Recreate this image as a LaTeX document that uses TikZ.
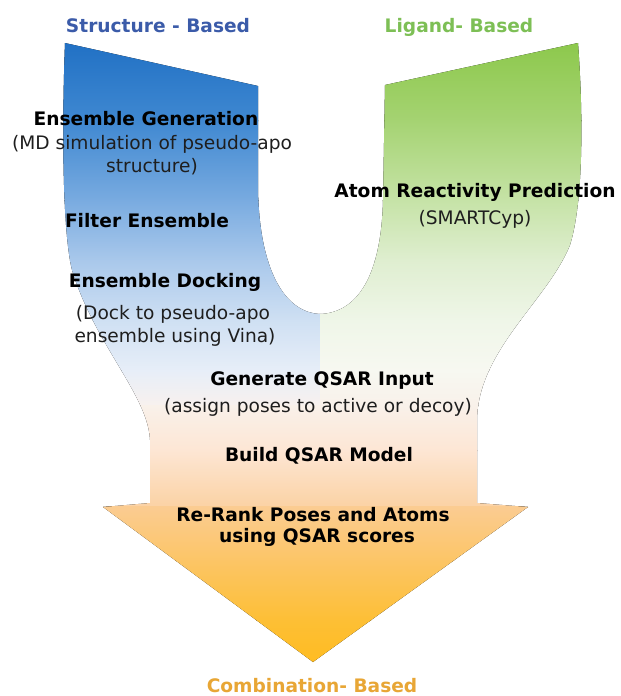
\documentclass[tikz,border=0pt]{standalone}
\usepackage{fontspec}
\setmainfont{DejaVu Sans}

\definecolor{structblue}{HTML}{3B5BA9}
\definecolor{ligandgreen}{HTML}{7DBF55}
\definecolor{comborange}{HTML}{E8A635}
\definecolor{subgray}{HTML}{1E1E1E}
% blue ramp
\definecolor{bA}{HTML}{2070C4}
\definecolor{bB}{HTML}{3F88D1}
\definecolor{bC}{HTML}{79ABE0}
\definecolor{bD}{HTML}{A9C8EB}
\definecolor{bE}{HTML}{CFE0F3}
\definecolor{bF}{HTML}{E7EEF8}
\definecolor{bG}{HTML}{F8F1EE}
% green ramp
\definecolor{gA}{HTML}{8CC84B}
\definecolor{gB}{HTML}{A5D372}
\definecolor{gC}{HTML}{C6E3A7}
\definecolor{gD}{HTML}{DFEED0}
\definecolor{gE}{HTML}{EFF6E8}
\definecolor{gF}{HTML}{F7F8F1}
\definecolor{gG}{HTML}{F9F1EA}
% peach / orange ramp
\definecolor{pA}{HTML}{F9F1EA}
\definecolor{pB}{HTML}{FDE6D4}
\definecolor{pC}{HTML}{FBD2A4}
\definecolor{oA}{HTML}{FBCC92}
\definecolor{oB}{HTML}{FCC566}
\definecolor{oC}{HTML}{FDBF35}
\definecolor{oD}{HTML}{FFBC20}

% outline of the U-shaped funnel ending in a downward arrow head
\newcommand\flowoutline{%
  (65,43) -- (258,86) -- (258,190)
  .. controls (260,280) and (290,313) .. (320,314)
  .. controls (352,313) and (381,285) .. (383,200)
  -- (385,85) -- (578,43)
  .. controls (583,110) and (584,200) .. (570,245)
  .. controls (548,300) and (478,350) .. (477,420)
  -- (477,503) -- (528,507) -- (313,662) -- (103,507) -- (150,503)
  -- (150,440)
  .. controls (148,395) and (95,345) .. (72,270)
  .. controls (62,230) and (62,120) .. (65,43) -- cycle}

% one horizontal band of a vertical colour ramp: x0, x1, y0, y1, top, bottom
\newcommand\vband[6]{%
  \fill[top color=#5, bottom color=#6] (#1,#3) rectangle (#2,#4+1);}

\begin{document}
\begin{tikzpicture}[x=1pt, y=-1pt,
  lbl/.style={font=\fontsize{18.6}{23}\selectfont\bfseries, text=black,
              inner sep=0pt, anchor=base},
  sub/.style={font=\fontsize{18.6}{23}\selectfont, text=subgray,
              inner sep=0pt, anchor=base},
  heading/.style={font=\fontsize{18.6}{23}\selectfont\bfseries,
              inner sep=0pt, anchor=base}]

\useasboundingbox[fill=white] (0,0) rectangle (621,696);

\begin{scope}
  \clip \flowoutline;
  % structure-based arm (blue, left)
  \vband{0}{320}{40}{120}{bA}{bB}
  \vband{0}{320}{120}{200}{bB}{bC}
  \vband{0}{320}{200}{260}{bC}{bD}
  \vband{0}{320}{260}{320}{bD}{bE}
  \vband{0}{320}{320}{370}{bE}{bF}
  \vband{0}{320}{370}{405}{bF}{bG}
  % ligand-based arm (green, right)
  \vband{320}{621}{40}{120}{gA}{gB}
  \vband{320}{621}{120}{200}{gB}{gC}
  \vband{320}{621}{200}{260}{gC}{gD}
  \vband{320}{621}{260}{320}{gD}{gE}
  \vband{320}{621}{320}{370}{gE}{gF}
  \vband{320}{621}{370}{405}{gF}{gG}
  % combined shaft (peach)
  \vband{0}{621}{405}{450}{pA}{pB}
  \vband{0}{621}{450}{506}{pB}{pC}
  % arrow head (orange)
  \vband{0}{621}{506}{560}{oA}{oB}
  \vband{0}{621}{560}{620}{oB}{oC}
  \vband{0}{621}{620}{665}{oC}{oD}
\end{scope}

% column headings
\node[heading, text=structblue]  (hStruct) at (158,32)  {Structure - Based};
\node[heading, text=ligandgreen] (hLig)    at (459,32)  {Ligand- Based};
\node[heading, text=comborange]  (hComb)   at (312,692) {Combination- Based};

% structure-based steps
\node[lbl] (gen)   at (146,125) {Ensemble Generation};
\node[sub] (gen1)  at (152,149) {(MD simulation of pseudo-apo};
\node[sub] (gen2)  at (152,172) {structure)};
\node[lbl] (filt)  at (147,227) {Filter Ensemble};
\node[lbl] (dock)  at (165,287) {Ensemble Docking};
\node[sub] (dock1) at (173,319) {(Dock to pseudo-apo};
\node[sub] (dock2) at (175,342) {ensemble using Vina)};

% ligand-based step
\node[lbl] (atom)  at (475,197) {Atom Reactivity Prediction};
\node[sub] (atom1) at (475,224) {(SMARTCyp)};

% combined steps
\node[lbl] (qin)   at (322,385) {Generate QSAR Input};
\node[sub] (qin1)  at (318,412) {(assign poses to active or decoy)};
\node[lbl] (qmod)  at (319,461) {Build QSAR Model};
\node[lbl] (rr1)   at (313,521) {Re-Rank Poses and Atoms};
\node[lbl] (rr2)   at (317,542) {using QSAR scores};

\end{tikzpicture}
\end{document}
